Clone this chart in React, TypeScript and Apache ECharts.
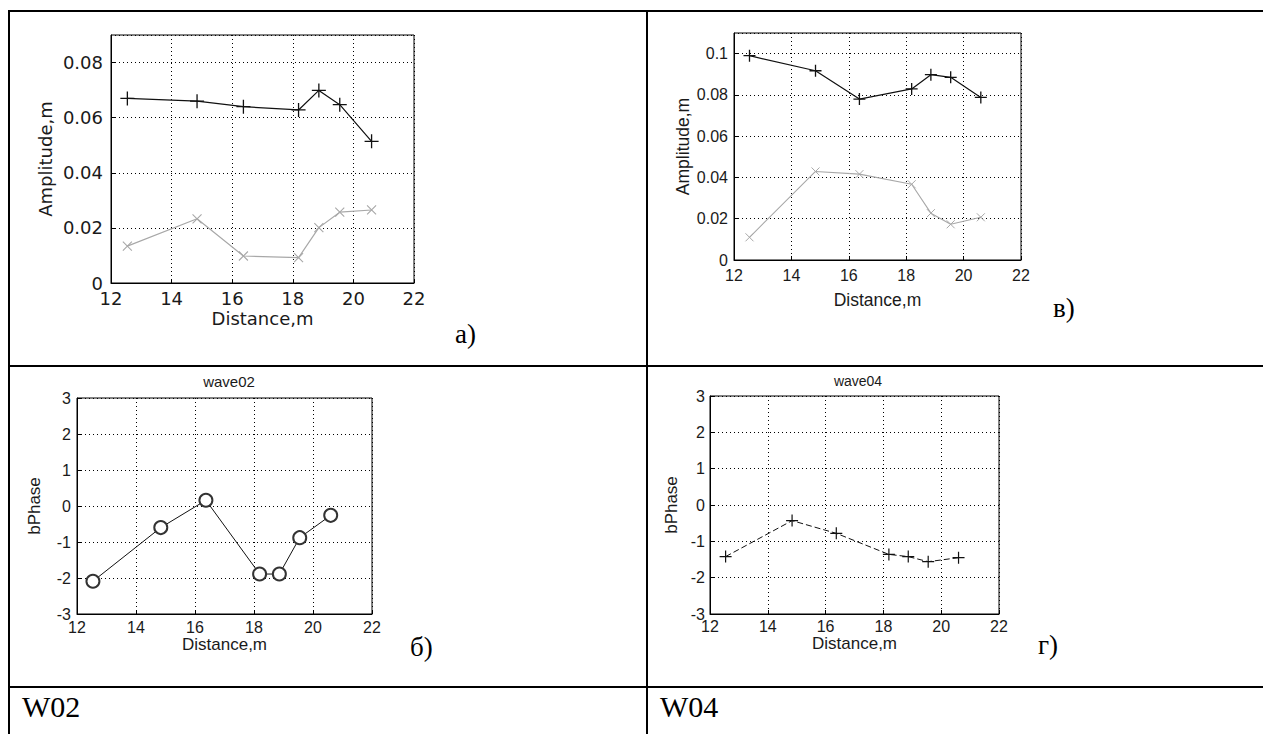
import React, { useEffect, useRef } from "react";
import * as echarts from "echarts";

// ---- data ----
const distance = [12.54, 14.84, 16.37, 18.19, 18.86, 19.55, 20.6];
const ampW02Black = [0.067, 0.066, 0.064, 0.0628, 0.0699, 0.0647, 0.0514];
const ampW02Gray = [0.0134, 0.0233, 0.0098, 0.0092, 0.0201, 0.0257, 0.0265];
const ampW04Black = [0.099, 0.0917, 0.078, 0.0829, 0.0898, 0.0885, 0.0788];
const ampW04Gray = [0.011, 0.0429, 0.0416, 0.0367, 0.0227, 0.0173, 0.0207];
const phaseW02 = [-2.09, -0.6, 0.16, -1.89, -1.89, -0.88, -0.26];
const phaseW04 = [-1.42, -0.43, -0.78, -1.36, -1.42, -1.56, -1.45];

const xRange = [12, 22];
const xStep = 2;
const ampRangeW02 = [0, 0.09];
const ampRangeW04 = [0, 0.11];
const ampStep = 0.02;
const phaseRange = [-3, 3];
const phaseStep = 1;

const panelLabels = ["а)", "в)", "б)", "г)"];
const titles = ["wave02", "wave04"];
const rowLabels = ["W02", "W04"];

const PLUS = "path://M0,-6L0,6M-6,0L6,0";
const CROSS = "path://M-5,-5L5,5M-5,5L5,-5";

const pairs = (ys: number[]) => distance.map((x, i) => [x, ys[i]]);
const fmt = (v: number) => String(+v.toFixed(3));

export default function App() {
  const ref = useRef<HTMLDivElement>(null);
  useEffect(() => {
    if (!ref.current) return;
    const chart = echarts.init(ref.current, null, { renderer: "svg" });

    const grids = [
      { left: 111, top: 35, width: 303, height: 248 },
      { left: 734, top: 33, width: 287, height: 227 },
      { left: 77, top: 398, width: 295, height: 216 },
      { left: 710, top: 396, width: 289, height: 218 },
    ].map((g) => ({ ...g, show: true, borderColor: "#000", borderWidth: 1, containLabel: false }));

    const fonts = [
      { fam: "DejaVu Sans", tick: 18, name: 18 },
      { fam: "Liberation Sans", tick: 16, name: 17.5 },
      { fam: "Liberation Sans", tick: 16, name: 17 },
      { fam: "Liberation Sans", tick: 16, name: 17 },
    ];
    const xNameGap = [26, 31, 21, 17];
    const yNameGap = [57, 42, 34, 30];
    const xLabelMargin = [6, 7, 5, 4];
    const yLabelMargin = [8, 6, 6, 5];
    const yRanges = [ampRangeW02, ampRangeW04, phaseRange, phaseRange];
    const ySteps = [ampStep, ampStep, phaseStep, phaseStep];
    const yNames = ["Amplitude,m", "Amplitude,m", "bPhase", "bPhase"];

    const common = (i: number) => ({
      gridIndex: i,
      type: "value",
      axisLine: { show: true, onZero: false, lineStyle: { color: "#000", width: 1 } },
      axisTick: { show: true, inside: true, length: 4, lineStyle: { color: "#000" } },
      splitLine: { show: true, lineStyle: { color: "#000", width: 1, type: [1, 3] } },
      nameLocation: "middle",
      nameTextStyle: { color: "#1a1a1a", fontFamily: fonts[i].fam, fontSize: fonts[i].name },
    });

    const xAxis = grids.map((_, i) => ({
      ...common(i),
      min: xRange[0],
      max: xRange[1],
      interval: xStep,
      name: "Distance,m",
      nameGap: xNameGap[i],
      axisLabel: {
        color: "#1a1a1a",
        fontFamily: fonts[i].fam,
        fontSize: fonts[i].tick,
        margin: xLabelMargin[i],
        formatter: fmt,
      },
    }));

    const yAxis = grids.map((_, i) => ({
      ...common(i),
      min: yRanges[i][0],
      max: yRanges[i][1],
      interval: ySteps[i],
      name: yNames[i],
      nameGap: yNameGap[i],
      axisLabel: {
        color: "#1a1a1a",
        fontFamily: fonts[i].fam,
        fontSize: fonts[i].tick,
        margin: yLabelMargin[i],
        showMaxLabel: i >= 2,
        formatter: fmt,
      },
    }));

    const black = "#111";
    const gray = "#a8a8a8";
    const mk = (i: number, ys: number[], opts: any) => ({
      type: "line",
      xAxisIndex: i,
      yAxisIndex: i,
      data: pairs(ys),
      showAllSymbol: true,
      ...opts,
    });

    const series = [
      mk(0, ampW02Black, {
        symbol: PLUS,
        symbolSize: 14,
        lineStyle: { color: black, width: 1.2 },
        itemStyle: { color: black, borderColor: black, borderWidth: 1.3 },
      }),
      mk(0, ampW02Gray, {
        symbol: CROSS,
        symbolSize: 9,
        lineStyle: { color: gray, width: 1.2 },
        itemStyle: { color: gray, borderColor: gray, borderWidth: 1.1 },
      }),
      mk(1, ampW04Black, {
        symbol: PLUS,
        symbolSize: 12,
        lineStyle: { color: black, width: 1.2 },
        itemStyle: { color: black, borderColor: black, borderWidth: 1.3 },
      }),
      mk(1, ampW04Gray, {
        symbol: CROSS,
        symbolSize: 8,
        lineStyle: { color: gray, width: 1.1 },
        itemStyle: { color: gray, borderColor: gray, borderWidth: 1 },
      }),
      mk(2, phaseW02, {
        symbol: "emptyCircle",
        symbolSize: 13,
        lineStyle: { color: black, width: 1 },
        itemStyle: { color: "#333", borderColor: "#333", borderWidth: 1 },
      }),
      mk(3, phaseW04, {
        symbol: PLUS,
        symbolSize: 12,
        lineStyle: { color: black, width: 1, type: [6, 3] },
        itemStyle: { color: black, borderColor: black, borderWidth: 1.2 },
      }),
    ];

    const bar = (x: number, y: number, w: number, h: number) => ({
      type: "rect",
      shape: { x, y, width: w, height: h },
      style: { fill: "#000" },
      silent: true,
    });
    const serif = (text: string, x: number, y: number, size: number) => ({
      type: "text",
      x,
      y,
      style: {
        text,
        fill: "#000",
        fontFamily: "Liberation Serif",
        fontSize: size,
        align: "left",
        verticalAlign: "middle",
      },
      silent: true,
    });

    chart.setOption({
      animation: false,
      backgroundColor: "#fff",
      title: [
        {
          text: titles[0],
          left: 224,
          top: 369,
          textAlign: "center",
          textStyle: { fontFamily: "Liberation Sans", fontSize: 15, fontWeight: "normal", color: "#1a1a1a" },
        },
        {
          text: titles[1],
          left: 853,
          top: 369,
          textAlign: "center",
          textStyle: { fontFamily: "Liberation Sans", fontSize: 14, fontWeight: "normal", color: "#1a1a1a" },
        },
      ],
      grid: grids,
      xAxis,
      yAxis,
      series,
      graphic: [
        bar(8, 10, 1255, 2),
        bar(8, 10, 2, 724),
        bar(646, 10, 2, 724),
        bar(8, 365, 1255, 2),
        bar(8, 686, 1255, 2),
        serif(panelLabels[0], 455, 334, 27),
        serif(panelLabels[1], 1053, 308, 27),
        serif(panelLabels[2], 410, 647, 27),
        serif(panelLabels[3], 1038, 645, 27),
        serif(rowLabels[0], 22, 706, 30),
        serif(rowLabels[1], 660, 706, 30),
      ],
    });

    return () => chart.dispose();
  }, []);

  return (
    <div
      ref={ref}
      style={{ position: "absolute", left: 0, top: 0, width: 1263, height: 734, background: "#fff" }}
    />
  );
}
